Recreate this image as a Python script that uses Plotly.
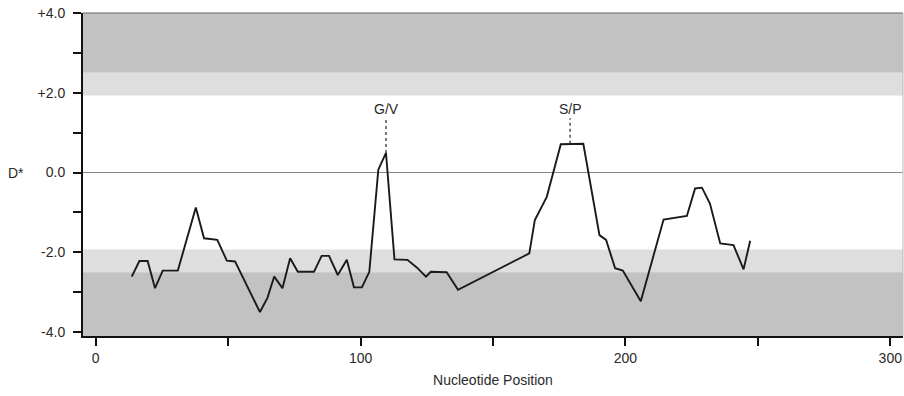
import plotly.graph_objects as go

# ---- data ----
positions = [13.6, 16.5, 19.6, 22.4, 25.3, 31.0, 37.8, 40.9, 45.9, 49.5, 52.6,
             62.0, 64.8, 67.4, 70.5, 73.4, 76.3, 82.4, 85.3, 88.1, 91.4, 94.8,
             97.5, 100.5, 103.3, 106.7, 109.6, 112.8, 117.7, 121.2, 124.7, 126.5,
             132.5, 136.8, 163.7, 165.8, 170.3, 175.6, 184.1, 190.2, 192.7, 196.1,
             199.0, 205.8, 214.4, 223.2, 226.3, 228.9, 231.9, 235.8, 240.8, 244.6,
             247.1]
d_star = [-2.61, -2.22, -2.22, -2.90, -2.46, -2.46, -0.88, -1.65, -1.69, -2.21, -2.23,
          -3.50, -3.15, -2.61, -2.90, -2.15, -2.49, -2.49, -2.09, -2.09, -2.57, -2.19,
          -2.88, -2.88, -2.49, 0.07, 0.49, -2.18, -2.19, -2.38, -2.61, -2.49,
          -2.50, -2.94, -2.03, -1.19, -0.61, 0.71, 0.72, -1.57, -1.69, -2.40,
          -2.46, -3.23, -1.18, -1.09, -0.40, -0.38, -0.78, -1.78, -1.82, -2.43,
          -1.71]

site_labels = ["G/V", "S/P"]
site_x = [109.6, 179.1]
site_peak = [0.49, 0.72]
site_label_y = [1.60, 1.60]
site_line_top = [1.39, 1.36]

band_inner = 1.93      # light band start
band_outer = 2.50      # dark band start
y_tick_vals = [-4, -3, -2, -1, 0, 1, 2, 3, 4]
y_tick_text = ["-4.0", "", "-2.0", "", "0.0", "", "+2.0", "", "+4.0"]
x_tick_vals = [0, 50, 100, 150, 200, 250, 300]
x_tick_text = ["0", "", "100", "", "200", "", "300"]

X_RANGE = [-4.8, 304.8]
Y_RANGE = [-4.1, 4.0]

FONT = "Liberation Sans, Arial, Helvetica, sans-serif"
TXT = "#2a2a2a"
DARK = "#c2c2c2"
LIGHT = "#dedede"

fig = go.Figure()

fig.add_trace(go.Scatter(x=positions, y=d_star, mode="lines",
                         line=dict(color="#1a1a1a", width=1.9),
                         hoverinfo="skip", showlegend=False))

shapes = []
# significance bands
for (y0, y1, c) in [(band_outer, Y_RANGE[1], DARK), (band_inner, band_outer, LIGHT),
                    (-band_outer, -band_inner, LIGHT), (Y_RANGE[0], -band_outer, DARK)]:
    shapes.append(dict(type="rect", xref="paper", yref="y", x0=0, x1=1, y0=y0, y1=y1,
                       fillcolor=c, line=dict(width=0), layer="below"))
# zero line
shapes.append(dict(type="line", xref="paper", yref="y", x0=0, x1=1, y0=0, y1=0,
                   line=dict(color="#8a8a8a", width=1.2), layer="below"))
# top / right frame
shapes.append(dict(type="line", xref="paper", yref="paper", x0=0, x1=1, y0=1, y1=1,
                   line=dict(color="#666666", width=1)))
shapes.append(dict(type="line", xref="paper", yref="paper", x0=1, x1=1, y0=0, y1=1,
                   line=dict(color="#bbbbbb", width=1)))
# dotted site lines
for sx, sp, st in zip(site_x, site_peak, site_line_top):
    shapes.append(dict(type="line", xref="x", yref="y", x0=sx, x1=sx, y0=sp, y1=st,
                       line=dict(color="#333333", width=1.3, dash="dot")))

annotations = []
for lab, sx, ly in zip(site_labels, site_x, site_label_y):
    annotations.append(dict(x=sx, y=ly, xref="x", yref="y", text=lab, showarrow=False,
                            font=dict(family=FONT, size=14, color=TXT),
                            xanchor="center", yanchor="middle"))
annotations.append(dict(x=-0.082, y=0, xref="paper", yref="y", text="D*", showarrow=False,
                        font=dict(family=FONT, size=14, color=TXT),
                        xanchor="center", yanchor="middle"))

fig.update_layout(
    width=904, height=396,
    margin=dict(l=83, r=1, t=13, b=60),
    paper_bgcolor="white", plot_bgcolor="white",
    shapes=shapes, annotations=annotations,
    font=dict(family=FONT, size=14, color=TXT),
    xaxis=dict(range=X_RANGE, tickvals=x_tick_vals, ticktext=x_tick_text,
               ticks="outside", ticklen=8, tickwidth=2, tickcolor="#111111",
               showline=True, linecolor="#111111", linewidth=2,
               showgrid=False, zeroline=False,
               title=dict(text="Nucleotide Position", standoff=10,
                          font=dict(family=FONT, size=14, color=TXT))),
    yaxis=dict(range=Y_RANGE, tickvals=y_tick_vals, ticktext=y_tick_text,
               ticks="outside", ticklen=8, tickwidth=2, tickcolor="#111111",
               showline=True, linecolor="#111111", linewidth=2,
               showgrid=False, zeroline=False, ticklabelstandoff=5),
)

fig.write_html("out.html")
